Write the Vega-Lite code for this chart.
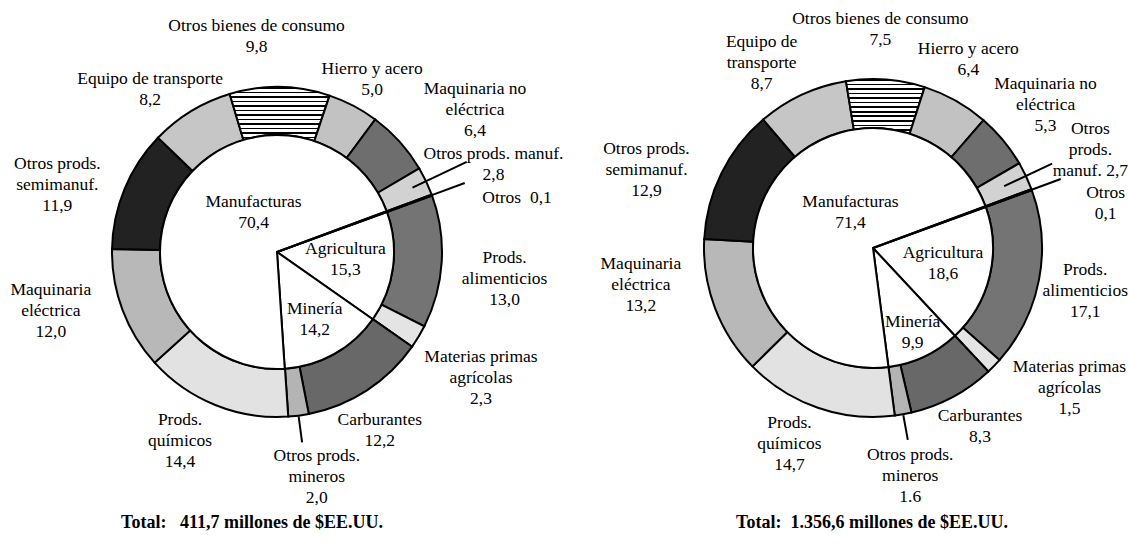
{
  "$schema": "https://vega.github.io/schema/vega-lite/v6.json",
  "background": "white",
  "padding": 0,
  "autosize": {"type": "none"},
  "width": 1129,
  "height": 545,
  "config": {
    "font": "Liberation Serif",
    "view": {"stroke": null},
    "text": {"font": "Liberation Serif", "fontSize": 17.5, "lineHeight": 21, "lineBreak": "\n", "color": "black", "align": "center", "baseline": "middle"}
  },
  "data": {
    "values": [
      {"chart": "A", "ring": "outer", "ord": 1, "cat": "Prods. alimenticios", "v": 13.0, "label": "Prods.\nalimenticios\n13,0"},
      {"chart": "A", "ring": "outer", "ord": 2, "cat": "Materias primas agrícolas", "v": 2.3, "label": "Materias primas\nagrícolas\n2,3"},
      {"chart": "A", "ring": "outer", "ord": 3, "cat": "Carburantes", "v": 12.2, "label": "Carburantes\n12,2"},
      {"chart": "A", "ring": "outer", "ord": 4, "cat": "Otros prods. mineros", "v": 2.0, "label": "Otros prods.\nmineros\n2,0"},
      {"chart": "A", "ring": "outer", "ord": 5, "cat": "Prods. químicos", "v": 14.4, "label": "Prods.\nquímicos\n14,4"},
      {"chart": "A", "ring": "outer", "ord": 6, "cat": "Maquinaria eléctrica", "v": 12.0, "label": "Maquinaria\neléctrica\n12,0"},
      {"chart": "A", "ring": "outer", "ord": 7, "cat": "Otros prods. semimanuf.", "v": 11.9, "label": "Otros prods.\nsemimanuf.\n11,9"},
      {"chart": "A", "ring": "outer", "ord": 8, "cat": "Equipo de transporte", "v": 8.2, "label": "Equipo de transporte\n8,2"},
      {"chart": "A", "ring": "outer", "ord": 9, "cat": "Otros bienes de consumo", "v": 9.8, "label": "Otros bienes de consumo\n9,8"},
      {"chart": "A", "ring": "outer", "ord": 10, "cat": "Hierro y acero", "v": 5.0, "label": "Hierro y acero\n5,0"},
      {"chart": "A", "ring": "outer", "ord": 11, "cat": "Maquinaria no eléctrica", "v": 6.4, "label": "Maquinaria no\neléctrica\n6,4"},
      {"chart": "A", "ring": "outer", "ord": 12, "cat": "Otros prods. manuf.", "v": 2.8, "label": "Otros prods. manuf.\n2,8"},
      {"chart": "A", "ring": "outer", "ord": 13, "cat": "Otros", "v": 0.1, "label": "Otros\u00a0 0,1"},
      {"chart": "A", "ring": "inner", "ord": 1, "cat": "Agricultura", "v": 15.3, "label": "Agricultura\n15,3"},
      {"chart": "A", "ring": "inner", "ord": 2, "cat": "Minería", "v": 14.2, "label": "Minería\n14,2"},
      {"chart": "A", "ring": "inner", "ord": 3, "cat": "Manufacturas", "v": 70.4, "label": "Manufacturas\n70,4"},
      {"chart": "A", "ring": "inner", "ord": 4, "cat": "Otros", "v": 0.1, "label": ""},
      {"chart": "A", "ring": "total", "ord": 0, "cat": "Total", "v": 411.7, "label": "Total:\u00a0\u00a0\u00a0411,7 millones de $EE.UU."},
      {"chart": "B", "ring": "outer", "ord": 1, "cat": "Prods. alimenticios", "v": 17.1, "label": "Prods.\nalimenticios\n17,1"},
      {"chart": "B", "ring": "outer", "ord": 2, "cat": "Materias primas agrícolas", "v": 1.5, "label": "Materias primas\nagrícolas\n1,5"},
      {"chart": "B", "ring": "outer", "ord": 3, "cat": "Carburantes", "v": 8.3, "label": "Carburantes\n8,3"},
      {"chart": "B", "ring": "outer", "ord": 4, "cat": "Otros prods. mineros", "v": 1.6, "label": "Otros prods.\nmineros\n1.6"},
      {"chart": "B", "ring": "outer", "ord": 5, "cat": "Prods. químicos", "v": 14.7, "label": "Prods.\nquímicos\n14,7"},
      {"chart": "B", "ring": "outer", "ord": 6, "cat": "Maquinaria eléctrica", "v": 13.2, "label": "Maquinaria\neléctrica\n13,2"},
      {"chart": "B", "ring": "outer", "ord": 7, "cat": "Otros prods. semimanuf.", "v": 12.9, "label": "Otros prods.\nsemimanuf.\n12,9"},
      {"chart": "B", "ring": "outer", "ord": 8, "cat": "Equipo de transporte", "v": 8.7, "label": "Equipo de\ntransporte\n8,7"},
      {"chart": "B", "ring": "outer", "ord": 9, "cat": "Otros bienes de consumo", "v": 7.5, "label": "Otros bienes de consumo\n7,5"},
      {"chart": "B", "ring": "outer", "ord": 10, "cat": "Hierro y acero", "v": 6.4, "label": "Hierro y acero\n6,4"},
      {"chart": "B", "ring": "outer", "ord": 11, "cat": "Maquinaria no eléctrica", "v": 5.3, "label": "Maquinaria no\neléctrica\n5,3"},
      {"chart": "B", "ring": "outer", "ord": 12, "cat": "Otros prods. manuf.", "v": 2.7, "label": "Otros\nprods.\nmanuf. 2,7"},
      {"chart": "B", "ring": "outer", "ord": 13, "cat": "Otros", "v": 0.1, "label": "Otros\n0,1"},
      {"chart": "B", "ring": "inner", "ord": 1, "cat": "Agricultura", "v": 18.6, "label": "Agricultura\n18,6"},
      {"chart": "B", "ring": "inner", "ord": 2, "cat": "Minería", "v": 9.9, "label": "Minería\n9,9"},
      {"chart": "B", "ring": "inner", "ord": 3, "cat": "Manufacturas", "v": 71.4, "label": "Manufacturas\n71,4"},
      {"chart": "B", "ring": "inner", "ord": 4, "cat": "Otros", "v": 0.1, "label": ""},
      {"chart": "B", "ring": "total", "ord": 0, "cat": "Total", "v": 1356.6, "label": "Total:\u00a0\u00a01.356,6 millones de $EE.UU."}
    ]
  },
  "layer": [
    {
      "transform": [{"filter": "datum.chart === 'A' && datum.ring === 'outer'"}],
      "mark": {"type": "arc", "innerRadius": 117, "outerRadius": 165, "stroke": "black", "strokeWidth": 2},
      "encoding": {
        "x": {"field": "chart", "type": "nominal", "scale": {"type": "point", "domain": ["A", "B"], "range": [277, 873], "padding": 0}, "axis": null},
        "y": {"field": "chart", "type": "nominal", "scale": {"type": "point", "domain": ["A", "B"], "range": [252, 248], "padding": 0}, "axis": null},
        "theta": {"field": "v", "type": "quantitative", "stack": "normalize", "scale": {"domain": [0, 1], "range": [1.2217, 7.5049]}},
        "order": {"field": "ord", "type": "quantitative"},
        "fill": {
          "field": "cat", "type": "nominal", "legend": null,
          "scale": {"domain": ["Prods. alimenticios", "Materias primas agrícolas", "Carburantes", "Otros prods. mineros", "Prods. químicos", "Maquinaria eléctrica", "Otros prods. semimanuf.", "Equipo de transporte", "Otros bienes de consumo", "Hierro y acero", "Maquinaria no eléctrica", "Otros prods. manuf.", "Otros"],
                    "range": ["#747474", "#e4e4e4", "#686868", "#b4b4b4", "#e2e2e2", "#b8b8b8", "#222222", "#c6c6c6", "#a0a0a0", "#c2c2c2", "#6e6e6e", "#d2d2d2", "#ffffff"]},
          "condition": {"test": "datum.cat === 'Otros bienes de consumo'", "value": {"gradient": "linear", "x1": 0, "y1": 0, "x2": 0, "y2": 1, "stops": [
            {"offset": 0.0, "color": "black"}, {"offset": 0.03, "color": "black"}, {"offset": 0.03, "color": "white"}, {"offset": 0.0833, "color": "white"},
            {"offset": 0.0833, "color": "black"}, {"offset": 0.1133, "color": "black"}, {"offset": 0.1133, "color": "white"}, {"offset": 0.1667, "color": "white"},
            {"offset": 0.1667, "color": "black"}, {"offset": 0.1967, "color": "black"}, {"offset": 0.1967, "color": "white"}, {"offset": 0.25, "color": "white"},
            {"offset": 0.25, "color": "black"}, {"offset": 0.28, "color": "black"}, {"offset": 0.28, "color": "white"}, {"offset": 0.3333, "color": "white"},
            {"offset": 0.3333, "color": "black"}, {"offset": 0.3633, "color": "black"}, {"offset": 0.3633, "color": "white"}, {"offset": 0.4167, "color": "white"},
            {"offset": 0.4167, "color": "black"}, {"offset": 0.4467, "color": "black"}, {"offset": 0.4467, "color": "white"}, {"offset": 0.5, "color": "white"},
            {"offset": 0.5, "color": "black"}, {"offset": 0.53, "color": "black"}, {"offset": 0.53, "color": "white"}, {"offset": 0.5833, "color": "white"},
            {"offset": 0.5833, "color": "black"}, {"offset": 0.6133, "color": "black"}, {"offset": 0.6133, "color": "white"}, {"offset": 0.6667, "color": "white"},
            {"offset": 0.6667, "color": "black"}, {"offset": 0.6967, "color": "black"}, {"offset": 0.6967, "color": "white"}, {"offset": 0.75, "color": "white"},
            {"offset": 0.75, "color": "black"}, {"offset": 0.78, "color": "black"}, {"offset": 0.78, "color": "white"}, {"offset": 0.8333, "color": "white"},
            {"offset": 0.8333, "color": "black"}, {"offset": 0.8633, "color": "black"}, {"offset": 0.8633, "color": "white"}, {"offset": 0.9167, "color": "white"},
            {"offset": 0.9167, "color": "black"}, {"offset": 0.9467, "color": "black"}, {"offset": 0.9467, "color": "white"}, {"offset": 1.0, "color": "white"}
          ]}}
        }
      }
    },
    {
      "transform": [{"filter": "datum.chart === 'B' && datum.ring === 'outer'"}],
      "mark": {"type": "arc", "innerRadius": 120, "outerRadius": 169, "stroke": "black", "strokeWidth": 2},
      "encoding": {
        "x": {"field": "chart", "type": "nominal", "scale": {"type": "point", "domain": ["A", "B"], "range": [277, 873], "padding": 0}, "axis": null},
        "y": {"field": "chart", "type": "nominal", "scale": {"type": "point", "domain": ["A", "B"], "range": [252, 248], "padding": 0}, "axis": null},
        "theta": {"field": "v", "type": "quantitative", "stack": "normalize", "scale": {"domain": [0, 1], "range": [1.2217, 7.5049]}},
        "order": {"field": "ord", "type": "quantitative"},
        "fill": {
          "field": "cat", "type": "nominal", "legend": null,
          "scale": {"domain": ["Prods. alimenticios", "Materias primas agrícolas", "Carburantes", "Otros prods. mineros", "Prods. químicos", "Maquinaria eléctrica", "Otros prods. semimanuf.", "Equipo de transporte", "Otros bienes de consumo", "Hierro y acero", "Maquinaria no eléctrica", "Otros prods. manuf.", "Otros"],
                    "range": ["#747474", "#e4e4e4", "#686868", "#b4b4b4", "#e2e2e2", "#b8b8b8", "#222222", "#c6c6c6", "#a0a0a0", "#c2c2c2", "#6e6e6e", "#d2d2d2", "#ffffff"]},
          "condition": {"test": "datum.cat === 'Otros bienes de consumo'", "value": {"gradient": "linear", "x1": 0, "y1": 0, "x2": 0, "y2": 1, "stops": [
            {"offset": 0.0, "color": "black"}, {"offset": 0.03, "color": "black"}, {"offset": 0.03, "color": "white"}, {"offset": 0.0833, "color": "white"},
            {"offset": 0.0833, "color": "black"}, {"offset": 0.1133, "color": "black"}, {"offset": 0.1133, "color": "white"}, {"offset": 0.1667, "color": "white"},
            {"offset": 0.1667, "color": "black"}, {"offset": 0.1967, "color": "black"}, {"offset": 0.1967, "color": "white"}, {"offset": 0.25, "color": "white"},
            {"offset": 0.25, "color": "black"}, {"offset": 0.28, "color": "black"}, {"offset": 0.28, "color": "white"}, {"offset": 0.3333, "color": "white"},
            {"offset": 0.3333, "color": "black"}, {"offset": 0.3633, "color": "black"}, {"offset": 0.3633, "color": "white"}, {"offset": 0.4167, "color": "white"},
            {"offset": 0.4167, "color": "black"}, {"offset": 0.4467, "color": "black"}, {"offset": 0.4467, "color": "white"}, {"offset": 0.5, "color": "white"},
            {"offset": 0.5, "color": "black"}, {"offset": 0.53, "color": "black"}, {"offset": 0.53, "color": "white"}, {"offset": 0.5833, "color": "white"},
            {"offset": 0.5833, "color": "black"}, {"offset": 0.6133, "color": "black"}, {"offset": 0.6133, "color": "white"}, {"offset": 0.6667, "color": "white"},
            {"offset": 0.6667, "color": "black"}, {"offset": 0.6967, "color": "black"}, {"offset": 0.6967, "color": "white"}, {"offset": 0.75, "color": "white"},
            {"offset": 0.75, "color": "black"}, {"offset": 0.78, "color": "black"}, {"offset": 0.78, "color": "white"}, {"offset": 0.8333, "color": "white"},
            {"offset": 0.8333, "color": "black"}, {"offset": 0.8633, "color": "black"}, {"offset": 0.8633, "color": "white"}, {"offset": 0.9167, "color": "white"},
            {"offset": 0.9167, "color": "black"}, {"offset": 0.9467, "color": "black"}, {"offset": 0.9467, "color": "white"}, {"offset": 1.0, "color": "white"}
          ]}}
        }
      }
    },
    {
      "transform": [{"filter": "datum.chart === 'A' && datum.ring === 'inner'"}],
      "mark": {"type": "arc", "outerRadius": 117, "fill": "white", "stroke": "black", "strokeWidth": 2},
      "encoding": {
        "x": {"field": "chart", "type": "nominal", "scale": {"type": "point", "domain": ["A", "B"], "range": [277, 873], "padding": 0}, "axis": null},
        "y": {"field": "chart", "type": "nominal", "scale": {"type": "point", "domain": ["A", "B"], "range": [252, 248], "padding": 0}, "axis": null},
        "theta": {"field": "v", "type": "quantitative", "stack": "normalize", "scale": {"domain": [0, 1], "range": [1.2217, 7.5049]}},
        "order": {"field": "ord", "type": "quantitative"}
      }
    },
    {
      "transform": [{"filter": "datum.chart === 'B' && datum.ring === 'inner'"}],
      "mark": {"type": "arc", "outerRadius": 120, "fill": "white", "stroke": "black", "strokeWidth": 2},
      "encoding": {
        "x": {"field": "chart", "type": "nominal", "scale": {"type": "point", "domain": ["A", "B"], "range": [277, 873], "padding": 0}, "axis": null},
        "y": {"field": "chart", "type": "nominal", "scale": {"type": "point", "domain": ["A", "B"], "range": [252, 248], "padding": 0}, "axis": null},
        "theta": {"field": "v", "type": "quantitative", "stack": "normalize", "scale": {"domain": [0, 1], "range": [1.2217, 7.5049]}},
        "order": {"field": "ord", "type": "quantitative"}
      }
    },
    {"transform": [{"filter": "datum.chart === 'A' && datum.ring === 'outer'"}], "mark": {"type": "arc", "innerRadius": 150, "outerRadius": 210, "padAngle": 1.2, "fill": "black", "stroke": "black", "strokeWidth": 2},
     "encoding": {"x": {"field": "chart", "type": "nominal", "axis": null}, "y": {"field": "chart", "type": "nominal", "axis": null}, "theta": {"field": "v", "type": "quantitative", "stack": "normalize"}, "order": {"field": "ord", "type": "quantitative"},
       "opacity": {"condition": {"test": "datum.cat === 'Otros prods. manuf.'", "value": 1}, "value": 0}}},
    {"transform": [{"filter": "datum.chart === 'A' && datum.ring === 'outer'"}], "mark": {"type": "arc", "innerRadius": 165, "outerRadius": 200, "padAngle": 1.2, "fill": "black", "stroke": "black", "strokeWidth": 2},
     "encoding": {"x": {"field": "chart", "type": "nominal", "axis": null}, "y": {"field": "chart", "type": "nominal", "axis": null}, "theta": {"field": "v", "type": "quantitative", "stack": "normalize"}, "order": {"field": "ord", "type": "quantitative"},
       "opacity": {"condition": {"test": "datum.cat === 'Otros'", "value": 1}, "value": 0}}},
    {"transform": [{"filter": "datum.chart === 'A' && datum.ring === 'outer'"}], "mark": {"type": "arc", "innerRadius": 166, "outerRadius": 192, "padAngle": 1.2, "fill": "black", "stroke": "black", "strokeWidth": 2},
     "encoding": {"x": {"field": "chart", "type": "nominal", "axis": null}, "y": {"field": "chart", "type": "nominal", "axis": null}, "theta": {"field": "v", "type": "quantitative", "stack": "normalize"}, "order": {"field": "ord", "type": "quantitative"},
       "opacity": {"condition": {"test": "datum.cat === 'Otros prods. mineros'", "value": 1}, "value": 0}}},
    {"transform": [{"filter": "datum.chart === 'B' && datum.ring === 'outer'"}], "mark": {"type": "arc", "innerRadius": 145, "outerRadius": 198, "padAngle": 1.2, "fill": "black", "stroke": "black", "strokeWidth": 2},
     "encoding": {"x": {"field": "chart", "type": "nominal", "axis": null}, "y": {"field": "chart", "type": "nominal", "axis": null}, "theta": {"field": "v", "type": "quantitative", "stack": "normalize"}, "order": {"field": "ord", "type": "quantitative"},
       "opacity": {"condition": {"test": "datum.cat === 'Otros prods. manuf.'", "value": 1}, "value": 0}}},
    {"transform": [{"filter": "datum.chart === 'B' && datum.ring === 'outer'"}], "mark": {"type": "arc", "innerRadius": 169, "outerRadius": 200, "padAngle": 1.2, "fill": "black", "stroke": "black", "strokeWidth": 2},
     "encoding": {"x": {"field": "chart", "type": "nominal", "axis": null}, "y": {"field": "chart", "type": "nominal", "axis": null}, "theta": {"field": "v", "type": "quantitative", "stack": "normalize"}, "order": {"field": "ord", "type": "quantitative"},
       "opacity": {"condition": {"test": "datum.cat === 'Otros'", "value": 1}, "value": 0}}},
    {"transform": [{"filter": "datum.chart === 'B' && datum.ring === 'outer'"}], "mark": {"type": "arc", "innerRadius": 170, "outerRadius": 195, "padAngle": 1.2, "fill": "black", "stroke": "black", "strokeWidth": 2},
     "encoding": {"x": {"field": "chart", "type": "nominal", "axis": null}, "y": {"field": "chart", "type": "nominal", "axis": null}, "theta": {"field": "v", "type": "quantitative", "stack": "normalize"}, "order": {"field": "ord", "type": "quantitative"},
       "opacity": {"condition": {"test": "datum.cat === 'Otros prods. mineros'", "value": 1}, "value": 0}}},

    {"transform": [{"filter": "datum.chart === 'A' && datum.ring === 'outer'"}], "mark": {"type": "text", "radius": 229, "dx": -1, "dy": -7},
     "encoding": {"x": {"field": "chart", "type": "nominal", "axis": null}, "y": {"field": "chart", "type": "nominal", "axis": null}, "theta": {"field": "v", "type": "quantitative", "stack": "normalize"}, "order": {"field": "ord", "type": "quantitative"},
       "text": {"condition": {"test": "datum.cat === 'Prods. alimenticios'", "field": "label"}, "value": ""}}},
    {"transform": [{"filter": "datum.chart === 'A' && datum.ring === 'outer'"}], "mark": {"type": "text", "radius": 240, "dx": -2, "dy": -18},
     "encoding": {"x": {"field": "chart", "type": "nominal", "axis": null}, "y": {"field": "chart", "type": "nominal", "axis": null}, "theta": {"field": "v", "type": "quantitative", "stack": "normalize"}, "order": {"field": "ord", "type": "quantitative"},
       "text": {"condition": {"test": "datum.cat === 'Materias primas agrícolas'", "field": "label"}, "value": ""}}},
    {"transform": [{"filter": "datum.chart === 'A' && datum.ring === 'outer'"}], "mark": {"type": "text", "radius": 205, "dx": -9, "dy": -4},
     "encoding": {"x": {"field": "chart", "type": "nominal", "axis": null}, "y": {"field": "chart", "type": "nominal", "axis": null}, "theta": {"field": "v", "type": "quantitative", "stack": "normalize"}, "order": {"field": "ord", "type": "quantitative"},
       "text": {"condition": {"test": "datum.cat === 'Carburantes'", "field": "label"}, "value": ""}}},
    {"transform": [{"filter": "datum.chart === 'A' && datum.ring === 'outer'"}], "mark": {"type": "text", "radius": 228, "dx": 10, "dy": -22},
     "encoding": {"x": {"field": "chart", "type": "nominal", "axis": null}, "y": {"field": "chart", "type": "nominal", "axis": null}, "theta": {"field": "v", "type": "quantitative", "stack": "normalize"}, "order": {"field": "ord", "type": "quantitative"},
       "text": {"condition": {"test": "datum.cat === 'Otros prods. mineros'", "field": "label"}, "value": ""}}},
    {"transform": [{"filter": "datum.chart === 'A' && datum.ring === 'outer'"}], "mark": {"type": "text", "radius": 211, "dx": -18, "dy": -28},
     "encoding": {"x": {"field": "chart", "type": "nominal", "axis": null}, "y": {"field": "chart", "type": "nominal", "axis": null}, "theta": {"field": "v", "type": "quantitative", "stack": "normalize"}, "order": {"field": "ord", "type": "quantitative"},
       "text": {"condition": {"test": "datum.cat === 'Prods. químicos'", "field": "label"}, "value": ""}}},
    {"transform": [{"filter": "datum.chart === 'A' && datum.ring === 'outer'"}], "mark": {"type": "text", "radius": 233, "dx": -8, "dy": -44},
     "encoding": {"x": {"field": "chart", "type": "nominal", "axis": null}, "y": {"field": "chart", "type": "nominal", "axis": null}, "theta": {"field": "v", "type": "quantitative", "stack": "normalize"}, "order": {"field": "ord", "type": "quantitative"},
       "text": {"condition": {"test": "datum.cat === 'Maquinaria eléctrica'", "field": "label"}, "value": ""}}},
    {"transform": [{"filter": "datum.chart === 'A' && datum.ring === 'outer'"}], "mark": {"type": "text", "radius": 229, "dx": -8, "dy": -1},
     "encoding": {"x": {"field": "chart", "type": "nominal", "axis": null}, "y": {"field": "chart", "type": "nominal", "axis": null}, "theta": {"field": "v", "type": "quantitative", "stack": "normalize"}, "order": {"field": "ord", "type": "quantitative"},
       "text": {"condition": {"test": "datum.cat === 'Otros prods. semimanuf.'", "field": "label"}, "value": ""}}},
    {"transform": [{"filter": "datum.chart === 'A' && datum.ring === 'outer'"}], "mark": {"type": "text", "radius": 205, "dx": -20, "dy": 2},
     "encoding": {"x": {"field": "chart", "type": "nominal", "axis": null}, "y": {"field": "chart", "type": "nominal", "axis": null}, "theta": {"field": "v", "type": "quantitative", "stack": "normalize"}, "order": {"field": "ord", "type": "quantitative"},
       "text": {"condition": {"test": "datum.cat === 'Equipo de transporte'", "field": "label"}, "value": ""}}},
    {"transform": [{"filter": "datum.chart === 'A' && datum.ring === 'outer'"}], "mark": {"type": "text", "radius": 216, "dx": -24, "dy": -10},
     "encoding": {"x": {"field": "chart", "type": "nominal", "axis": null}, "y": {"field": "chart", "type": "nominal", "axis": null}, "theta": {"field": "v", "type": "quantitative", "stack": "normalize"}, "order": {"field": "ord", "type": "quantitative"},
       "text": {"condition": {"test": "datum.cat === 'Otros bienes de consumo'", "field": "label"}, "value": ""}}},
    {"transform": [{"filter": "datum.chart === 'A' && datum.ring === 'outer'"}], "mark": {"type": "text", "radius": 197, "dx": 4, "dy": -8},
     "encoding": {"x": {"field": "chart", "type": "nominal", "axis": null}, "y": {"field": "chart", "type": "nominal", "axis": null}, "theta": {"field": "v", "type": "quantitative", "stack": "normalize"}, "order": {"field": "ord", "type": "quantitative"},
       "text": {"condition": {"test": "datum.cat === 'Hierro y acero'", "field": "label"}, "value": ""}}},
    {"transform": [{"filter": "datum.chart === 'A' && datum.ring === 'outer'"}], "mark": {"type": "text", "radius": 242, "dx": 18, "dy": -1},
     "encoding": {"x": {"field": "chart", "type": "nominal", "axis": null}, "y": {"field": "chart", "type": "nominal", "axis": null}, "theta": {"field": "v", "type": "quantitative", "stack": "normalize"}, "order": {"field": "ord", "type": "quantitative"},
       "text": {"condition": {"test": "datum.cat === 'Maquinaria no eléctrica'", "field": "label"}, "value": ""}}},
    {"transform": [{"filter": "datum.chart === 'A' && datum.ring === 'outer'"}], "mark": {"type": "text", "radius": 233, "dx": 6, "dy": 2},
     "encoding": {"x": {"field": "chart", "type": "nominal", "axis": null}, "y": {"field": "chart", "type": "nominal", "axis": null}, "theta": {"field": "v", "type": "quantitative", "stack": "normalize"}, "order": {"field": "ord", "type": "quantitative"},
       "text": {"condition": {"test": "datum.cat === 'Otros prods. manuf.'", "field": "label"}, "value": ""}}},
    {"transform": [{"filter": "datum.chart === 'A' && datum.ring === 'outer'"}], "mark": {"type": "text", "radius": 244, "dx": 11, "dy": 30},
     "encoding": {"x": {"field": "chart", "type": "nominal", "axis": null}, "y": {"field": "chart", "type": "nominal", "axis": null}, "theta": {"field": "v", "type": "quantitative", "stack": "normalize"}, "order": {"field": "ord", "type": "quantitative"},
       "text": {"condition": {"test": "datum.cat === 'Otros'", "field": "label"}, "value": ""}}},
    {"transform": [{"filter": "datum.chart === 'A' && datum.ring === 'inner'"}], "mark": {"type": "text", "radius": 41, "dx": 11, "dy": -28},
     "encoding": {"x": {"field": "chart", "type": "nominal", "axis": null}, "y": {"field": "chart", "type": "nominal", "axis": null}, "theta": {"field": "v", "type": "quantitative", "stack": "normalize"}, "order": {"field": "ord", "type": "quantitative"},
       "text": {"condition": {"test": "datum.cat === 'Manufacturas'", "field": "label"}, "value": ""}}},
    {"transform": [{"filter": "datum.chart === 'A' && datum.ring === 'inner'"}], "mark": {"type": "text", "radius": 69, "dx": 0, "dy": -12},
     "encoding": {"x": {"field": "chart", "type": "nominal", "axis": null}, "y": {"field": "chart", "type": "nominal", "axis": null}, "theta": {"field": "v", "type": "quantitative", "stack": "normalize"}, "order": {"field": "ord", "type": "quantitative"},
       "text": {"condition": {"test": "datum.cat === 'Agricultura'", "field": "label"}, "value": ""}}},
    {"transform": [{"filter": "datum.chart === 'A' && datum.ring === 'inner'"}], "mark": {"type": "text", "radius": 77, "dx": 0, "dy": -10},
     "encoding": {"x": {"field": "chart", "type": "nominal", "axis": null}, "y": {"field": "chart", "type": "nominal", "axis": null}, "theta": {"field": "v", "type": "quantitative", "stack": "normalize"}, "order": {"field": "ord", "type": "quantitative"},
       "text": {"condition": {"test": "datum.cat === 'Minería'", "field": "label"}, "value": ""}}},

    {"transform": [{"filter": "datum.chart === 'B' && datum.ring === 'outer'"}], "mark": {"type": "text", "radius": 216, "dx": 0, "dy": -18},
     "encoding": {"x": {"field": "chart", "type": "nominal", "axis": null}, "y": {"field": "chart", "type": "nominal", "axis": null}, "theta": {"field": "v", "type": "quantitative", "stack": "normalize"}, "order": {"field": "ord", "type": "quantitative"},
       "text": {"condition": {"test": "datum.cat === 'Prods. alimenticios'", "field": "label"}, "value": ""}}},
    {"transform": [{"filter": "datum.chart === 'B' && datum.ring === 'outer'"}], "mark": {"type": "text", "radius": 238, "dx": 26, "dy": -47},
     "encoding": {"x": {"field": "chart", "type": "nominal", "axis": null}, "y": {"field": "chart", "type": "nominal", "axis": null}, "theta": {"field": "v", "type": "quantitative", "stack": "normalize"}, "order": {"field": "ord", "type": "quantitative"},
       "text": {"condition": {"test": "datum.cat === 'Materias primas agrícolas'", "field": "label"}, "value": ""}}},
    {"transform": [{"filter": "datum.chart === 'B' && datum.ring === 'outer'"}], "mark": {"type": "text", "radius": 208, "dx": 9, "dy": -15},
     "encoding": {"x": {"field": "chart", "type": "nominal", "axis": null}, "y": {"field": "chart", "type": "nominal", "axis": null}, "theta": {"field": "v", "type": "quantitative", "stack": "normalize"}, "order": {"field": "ord", "type": "quantitative"},
       "text": {"condition": {"test": "datum.cat === 'Carburantes'", "field": "label"}, "value": ""}}},
    {"transform": [{"filter": "datum.chart === 'B' && datum.ring === 'outer'"}], "mark": {"type": "text", "radius": 231, "dx": -4, "dy": -20},
     "encoding": {"x": {"field": "chart", "type": "nominal", "axis": null}, "y": {"field": "chart", "type": "nominal", "axis": null}, "theta": {"field": "v", "type": "quantitative", "stack": "normalize"}, "order": {"field": "ord", "type": "quantitative"},
       "text": {"condition": {"test": "datum.cat === 'Otros prods. mineros'", "field": "label"}, "value": ""}}},
    {"transform": [{"filter": "datum.chart === 'B' && datum.ring === 'outer'"}], "mark": {"type": "text", "radius": 213, "dx": -14, "dy": -26},
     "encoding": {"x": {"field": "chart", "type": "nominal", "axis": null}, "y": {"field": "chart", "type": "nominal", "axis": null}, "theta": {"field": "v", "type": "quantitative", "stack": "normalize"}, "order": {"field": "ord", "type": "quantitative"},
       "text": {"condition": {"test": "datum.cat === 'Prods. químicos'", "field": "label"}, "value": ""}}},
    {"transform": [{"filter": "datum.chart === 'B' && datum.ring === 'outer'"}], "mark": {"type": "text", "radius": 230, "dx": -17, "dy": -65},
     "encoding": {"x": {"field": "chart", "type": "nominal", "axis": null}, "y": {"field": "chart", "type": "nominal", "axis": null}, "theta": {"field": "v", "type": "quantitative", "stack": "normalize"}, "order": {"field": "ord", "type": "quantitative"},
       "text": {"condition": {"test": "datum.cat === 'Maquinaria eléctrica'", "field": "label"}, "value": ""}}},
    {"transform": [{"filter": "datum.chart === 'B' && datum.ring === 'outer'"}], "mark": {"type": "text", "radius": 237, "dx": -14, "dy": 6},
     "encoding": {"x": {"field": "chart", "type": "nominal", "axis": null}, "y": {"field": "chart", "type": "nominal", "axis": null}, "theta": {"field": "v", "type": "quantitative", "stack": "normalize"}, "order": {"field": "ord", "type": "quantitative"},
       "text": {"condition": {"test": "datum.cat === 'Otros prods. semimanuf.'", "field": "label"}, "value": ""}}},
    {"transform": [{"filter": "datum.chart === 'B' && datum.ring === 'outer'"}], "mark": {"type": "text", "radius": 215, "dx": -21, "dy": -11},
     "encoding": {"x": {"field": "chart", "type": "nominal", "axis": null}, "y": {"field": "chart", "type": "nominal", "axis": null}, "theta": {"field": "v", "type": "quantitative", "stack": "normalize"}, "order": {"field": "ord", "type": "quantitative"},
       "text": {"condition": {"test": "datum.cat === 'Equipo de transporte'", "field": "label"}, "value": ""}}},
    {"transform": [{"filter": "datum.chart === 'B' && datum.ring === 'outer'"}], "mark": {"type": "text", "radius": 219, "dx": -9, "dy": -11},
     "encoding": {"x": {"field": "chart", "type": "nominal", "axis": null}, "y": {"field": "chart", "type": "nominal", "axis": null}, "theta": {"field": "v", "type": "quantitative", "stack": "normalize"}, "order": {"field": "ord", "type": "quantitative"},
       "text": {"condition": {"test": "datum.cat === 'Otros bienes de consumo'", "field": "label"}, "value": ""}}},
    {"transform": [{"filter": "datum.chart === 'B' && datum.ring === 'outer'"}], "mark": {"type": "text", "radius": 211, "dx": -8, "dy": -15},
     "encoding": {"x": {"field": "chart", "type": "nominal", "axis": null}, "y": {"field": "chart", "type": "nominal", "axis": null}, "theta": {"field": "v", "type": "quantitative", "stack": "normalize"}, "order": {"field": "ord", "type": "quantitative"},
       "text": {"condition": {"test": "datum.cat === 'Hierro y acero'", "field": "label"}, "value": ""}}},
    {"transform": [{"filter": "datum.chart === 'B' && datum.ring === 'outer'"}], "mark": {"type": "text", "radius": 224, "dx": 0, "dy": -21},
     "encoding": {"x": {"field": "chart", "type": "nominal", "axis": null}, "y": {"field": "chart", "type": "nominal", "axis": null}, "theta": {"field": "v", "type": "quantitative", "stack": "normalize"}, "order": {"field": "ord", "type": "quantitative"},
       "text": {"condition": {"test": "datum.cat === 'Maquinaria no eléctrica'", "field": "label"}, "value": ""}}},
    {"transform": [{"filter": "datum.chart === 'B' && datum.ring === 'outer'"}], "mark": {"type": "text", "radius": 237, "dx": 3, "dy": -18},
     "encoding": {"x": {"field": "chart", "type": "nominal", "axis": null}, "y": {"field": "chart", "type": "nominal", "axis": null}, "theta": {"field": "v", "type": "quantitative", "stack": "normalize"}, "order": {"field": "ord", "type": "quantitative"},
       "text": {"condition": {"test": "datum.cat === 'Otros prods. manuf.'", "field": "label"}, "value": ""}}},
    {"transform": [{"filter": "datum.chart === 'B' && datum.ring === 'outer'"}], "mark": {"type": "text", "radius": 235, "dx": 12, "dy": 26},
     "encoding": {"x": {"field": "chart", "type": "nominal", "axis": null}, "y": {"field": "chart", "type": "nominal", "axis": null}, "theta": {"field": "v", "type": "quantitative", "stack": "normalize"}, "order": {"field": "ord", "type": "quantitative"},
       "text": {"condition": {"test": "datum.cat === 'Otros'", "field": "label"}, "value": ""}}},
    {"transform": [{"filter": "datum.chart === 'B' && datum.ring === 'inner'"}], "mark": {"type": "text", "radius": 38, "dx": 10, "dy": -26},
     "encoding": {"x": {"field": "chart", "type": "nominal", "axis": null}, "y": {"field": "chart", "type": "nominal", "axis": null}, "theta": {"field": "v", "type": "quantitative", "stack": "normalize"}, "order": {"field": "ord", "type": "quantitative"},
       "text": {"condition": {"test": "datum.cat === 'Manufacturas'", "field": "label"}, "value": ""}}},
    {"transform": [{"filter": "datum.chart === 'B' && datum.ring === 'inner'"}], "mark": {"type": "text", "radius": 72, "dx": 0, "dy": -12},
     "encoding": {"x": {"field": "chart", "type": "nominal", "axis": null}, "y": {"field": "chart", "type": "nominal", "axis": null}, "theta": {"field": "v", "type": "quantitative", "stack": "normalize"}, "order": {"field": "ord", "type": "quantitative"},
       "text": {"condition": {"test": "datum.cat === 'Agricultura'", "field": "label"}, "value": ""}}},
    {"transform": [{"filter": "datum.chart === 'B' && datum.ring === 'inner'"}], "mark": {"type": "text", "radius": 93, "dx": 0, "dy": -10},
     "encoding": {"x": {"field": "chart", "type": "nominal", "axis": null}, "y": {"field": "chart", "type": "nominal", "axis": null}, "theta": {"field": "v", "type": "quantitative", "stack": "normalize"}, "order": {"field": "ord", "type": "quantitative"},
       "text": {"condition": {"test": "datum.cat === 'Minería'", "field": "label"}, "value": ""}}},

    {"transform": [{"filter": "datum.chart === 'A' && datum.ring === 'total'"}], "mark": {"type": "text", "dx": -25, "dy": 271, "fontSize": 18, "fontWeight": "bold"},
     "encoding": {"x": {"field": "chart", "type": "nominal", "axis": null}, "y": {"field": "chart", "type": "nominal", "axis": null}, "text": {"field": "label"}}},
    {"transform": [{"filter": "datum.chart === 'B' && datum.ring === 'total'"}], "mark": {"type": "text", "dx": -1, "dy": 275, "fontSize": 18, "fontWeight": "bold"},
     "encoding": {"x": {"field": "chart", "type": "nominal", "axis": null}, "y": {"field": "chart", "type": "nominal", "axis": null}, "text": {"field": "label"}}}
  ]
}
